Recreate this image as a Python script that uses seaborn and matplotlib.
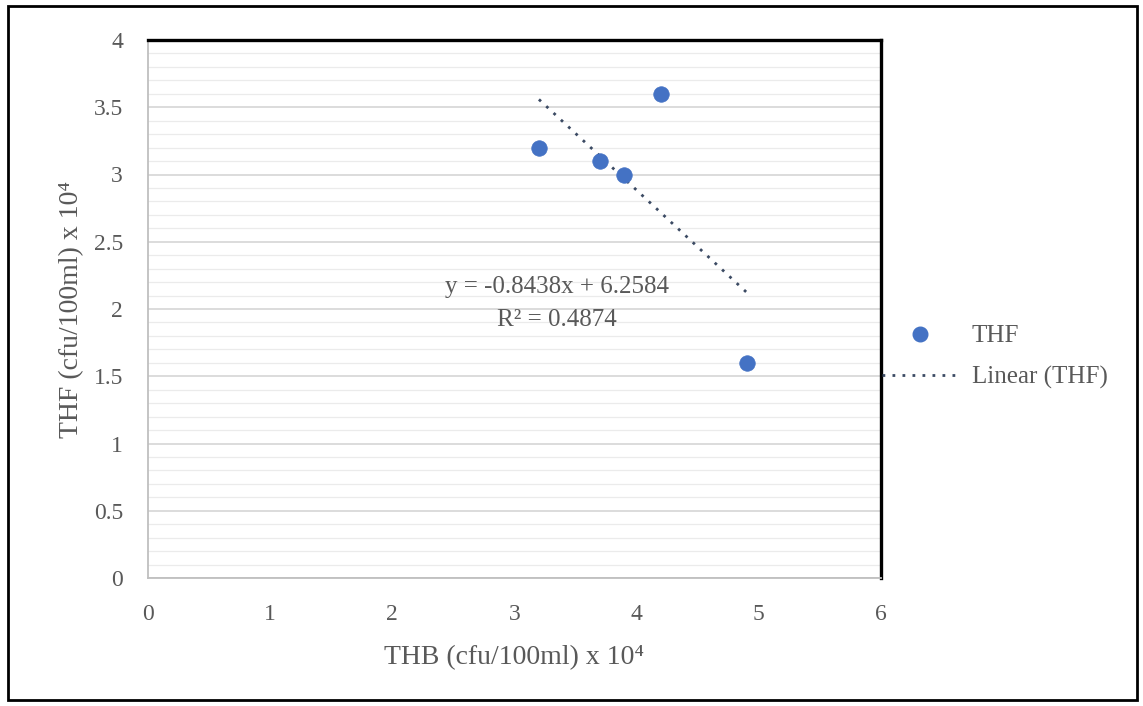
import numpy as np
import pandas as pd
import matplotlib
matplotlib.use("Agg")
import matplotlib.pyplot as plt
from matplotlib.lines import Line2D
from matplotlib.patches import Rectangle
from matplotlib.ticker import MultipleLocator
import seaborn as sns

# Data
thb = [3.2, 3.7, 3.9, 4.2, 4.9]
thf = [3.2, 3.1, 3.0, 3.6, 1.6]
x_ticks = [0, 1, 2, 3, 4, 5, 6]
y_ticks = [0, 0.5, 1, 1.5, 2, 2.5, 3, 3.5, 4]
y_tick_labels = ["0", "0.5", "1", "1.5", "2", "2.5", "3", "3.5", "4"]
series_name = "THF"
trend_name = "Linear (THF)"
eq_text = "y = -0.8438x + 6.2584"
r2_text = "R² = 0.4874"
x_label = "THB (cfu/100ml) x 10⁴"
y_label = "THF (cfu/100ml) x 10⁴"

df = pd.DataFrame({"THB": thb, "THF": thf})

sns.set_theme(style="white")
plt.rcParams['font.family'] = ['Liberation Serif', 'DejaVu Serif']

fig = plt.figure(figsize=(11.43, 7.06), dpi=100)
ax = fig.add_axes([148/1143, 1 - 578/706, (881-148)/1143, (578-40)/706])

marker_color = "#4472C4"
trend_color = "#3B4A63"
text_color = "#595959"

# grid
ax.yaxis.set_minor_locator(MultipleLocator(0.1))
ax.grid(which="major", axis="y", color="#D9D9D9", linewidth=1.3)
ax.grid(which="minor", axis="y", color="#EBEBEB", linewidth=0.9)
ax.set_axisbelow(True)

dot_style = (0, (1, 2.6))
sns.regplot(data=df, x="THB", y="THF", ax=ax, ci=None, truncate=True,
            scatter_kws=dict(s=125, color=marker_color, edgecolor=marker_color,
                             linewidths=0.5, alpha=1, zorder=3),
            line_kws=dict(color=trend_color, linestyle=dot_style, linewidth=2, zorder=2))

ax.set_xlim(0, 6)
ax.set_ylim(0, 4)
ax.set_xticks(x_ticks)
ax.set_yticks(y_ticks)
ax.set_yticklabels(y_tick_labels)
ax.tick_params(axis="both", which="major", labelsize=17, labelcolor=text_color,
               width=1.2, color="#BFBFBF", direction="out")
ax.tick_params(axis="both", which="minor", length=0)
ax.tick_params(axis="x", length=5, pad=14)
ax.tick_params(axis="y", length=7, pad=11)

ax.set_xlabel(x_label, fontsize=20, color=text_color, labelpad=14)
ax.set_ylabel(y_label, fontsize=20, color=text_color, labelpad=7)

for s in ["left", "bottom"]:
    ax.spines[s].set_color("#BFBFBF")
    ax.spines[s].set_linewidth(1.3)
for s in ["top", "right"]:
    ax.spines[s].set_color("black")
    ax.spines[s].set_linewidth(2.4)

ax.text(3.35, 2.16, eq_text, ha="center", va="center", fontsize=18, color=text_color)
ax.text(3.35, 1.92, r2_text, ha="center", va="center", fontsize=18, color=text_color)

handles = [
    Line2D([], [], marker="o", linestyle="none", markersize=10.5, color=marker_color),
    Line2D([], [], color=trend_color, linestyle=dot_style, linewidth=2),
]
leg = fig.legend(handles, [series_name, trend_name], loc="center left",
                 bbox_to_anchor=(882/1143, 1 - 357/706), frameon=False,
                 fontsize=18, labelcolor=text_color, handlelength=3.05,
                 handletextpad=0.55, labelspacing=0.75, borderpad=0,
                 borderaxespad=0)

fig.patches.append(Rectangle((8/1143, 6/706), (1137-8)/1143, (700-6)/706,
                             transform=fig.transFigure, fill=False,
                             edgecolor="black", linewidth=2))

fig.savefig("out.png", dpi=100, facecolor="white")
